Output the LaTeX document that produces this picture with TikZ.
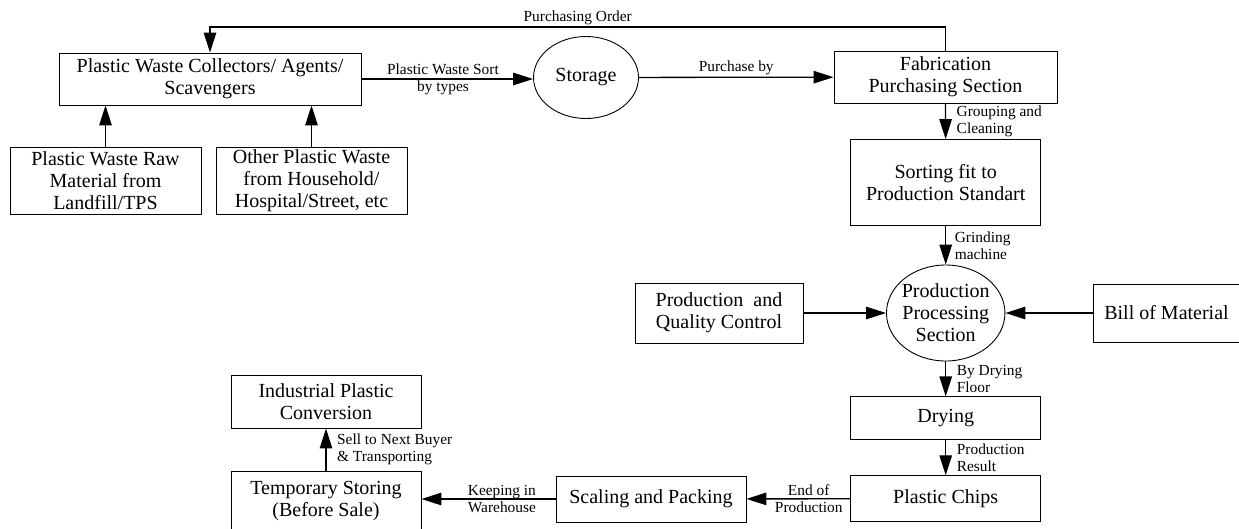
\documentclass[tikz,border=0pt]{standalone}
\usepackage{fontspec}
\setmainfont{Liberation Serif}
\usetikzlibrary{arrows.meta, positioning, shapes.geometric}

\begin{document}
\begin{tikzpicture}[x=1pt, y=-1pt,
  box/.style={draw, line width=0.9pt, inner sep=1pt, align=center, font=\fontsize{20}{22}\selectfont},
  oval/.style={box, ellipse},
  lbl/.style={inner sep=1.5pt, align=left, font=\fontsize{15.4}{17}\selectfont},
  flow/.style={line width=1.3pt, -{Triangle[length=20pt, width=12.5pt]}}]
\useasboundingbox (0,0) rectangle (1239,528);
\clip (0,0) rectangle (1239,528);

% Collecting side
\node[box, minimum width=302pt, minimum height=52pt] (collect) at (210,79) {Plastic Waste Collectors/ Agents/\\Scavengers};
\node[box, minimum width=191pt, minimum height=67pt] (landfill) at (105.5,180.5) {Plastic Waste Raw\\Material from\\Landfill/TPS};
\node[box, minimum width=191pt, minimum height=67pt] (household) at (311.5,180.5) {Other Plastic Waste\\from Household/\\Hospital/Street, etc};
\node[oval, minimum width=105pt, minimum height=82pt] (storage) at (586,77.5) {Storage};
\node[box, minimum width=223pt, minimum height=52pt] (fab) at (945.5,77) {Fabrication\\Purchasing Section};

% Production line
\node[box, minimum width=190pt, minimum height=86pt] (sorting) at (945.7,182.5) {Sorting fit to\\Production Standart};
\node[oval, inner xsep=-2pt, inner ysep=0pt, minimum width=118pt, minimum height=96pt] (proc) at (945.7,313) {Production\\Processing\\Section};
\node[box, minimum width=168pt, minimum height=60pt] (qc) at (719,313) {Production\ \ and\\Quality Control};
\node[box, minimum width=147pt, minimum height=58pt] (bom) at (1166.5,313) {Bill of Material};
\node[box, minimum width=190pt, minimum height=43pt] (drying) at (945.7,418.3) {Drying};
\node[box, minimum width=190pt, minimum height=46pt] (chips) at (945.7,498.7) {Plastic Chips};

% Selling side
\node[box, minimum width=190pt, minimum height=46pt] (packing) at (651,499) {Scaling and Packing};
\node[box, minimum width=190pt, minimum height=58pt] (temp) at (326,500.5) {Temporary Storing\\(Before Sale)};
\node[box, minimum width=190pt, minimum height=53pt] (industry) at (326,401.5) {Industrial Plastic\\Conversion};

% Flows
\draw[flow] (landfill.north) -- (landfill.north |- collect.south);
\draw[flow] (household.north) -- (household.north |- collect.south);
\draw[flow] (collect.east) -- node[lbl, align=center, pos=0.475] {Plastic Waste Sort\\by types} (collect.east -| storage.west);
\draw[flow] (storage) -- node[lbl, above] {Purchase by} (fab);
\coordinate (order) at (945.5,27);
\draw[flow] (fab.north) -- (order) -| node[lbl, above, pos=0.25] {Purchasing Order} (collect.north);
\draw[flow] (fab) -- node[lbl, right=9pt] {Grouping and\\Cleaning} (sorting);
\draw[flow] (sorting) -- node[lbl, right=7pt] {Grinding\\machine} (proc);
\draw[flow] (qc) -- (proc);
\draw[flow] (bom) -- (proc);
\draw[flow] (proc) -- node[lbl, right=9pt] {By Drying\\Floor} (drying);
\draw[flow] (drying) -- node[lbl, right=9pt] {Production\\Result} (chips);
\draw[flow] (chips) -- node[lbl, align=center, pos=0.4] {End of\\Production} (packing);
\draw[flow] (packing.west) -- node[lbl, align=center, pos=0.4] {Keeping in\\Warehouse} (packing.west -| temp.east);
\draw[flow] (temp) -- node[lbl, right=9pt] {Sell to Next Buyer\\\& Transporting} (industry);
\end{tikzpicture}
\end{document}
